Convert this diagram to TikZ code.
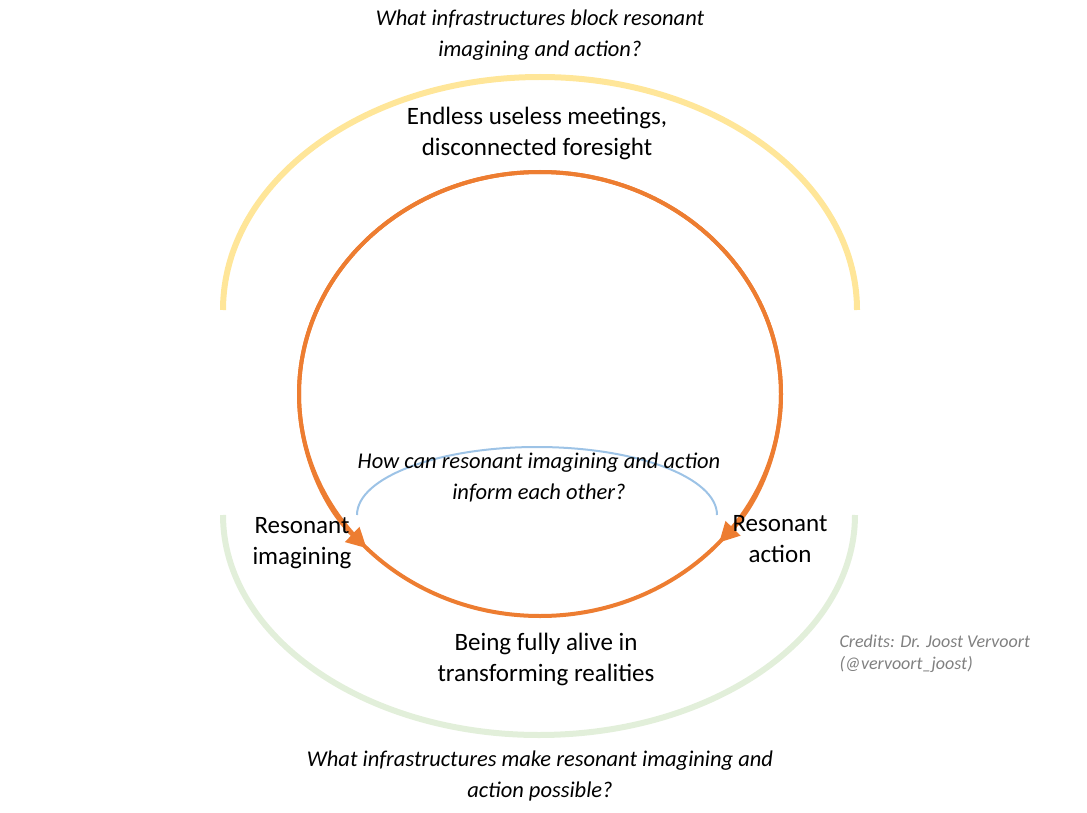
\documentclass[tikz,border=0pt]{standalone}
\usepackage{fontspec}
\setmainfont{Carlito}
\usetikzlibrary{arrows.meta}
\definecolor{org}{HTML}{ED7D31}
\definecolor{yel}{HTML}{FFE699}
\definecolor{grn}{HTML}{E2EFDA}
\definecolor{blu}{HTML}{9DC3E6}
\tikzset{
  big/.style={align=center,font=\fontsize{25}{31}\selectfont},
  q/.style={align=center,font=\fontsize{22.5}{31}\selectfont\itshape},
  orng/.style={org,line width=4pt},
}
\begin{document}
\begin{tikzpicture}[x=1pt,y=1pt]
\useasboundingbox (0,0) rectangle (1087,-813);
% yellow arc
\draw[yel,line width=6pt] (223,-310) arc[start angle=180,end angle=0,x radius=317,y radius=233];
% green arc
\draw[grn,line width=6pt] (223,-515) arc[start angle=180,end angle=360,x radius=316,y radius=220];
% blue arc
\draw[blu,line width=2pt] (357,-515) arc[start angle=180,end angle=0,x radius=180,y radius=68];
% orange ellipse
\coordinate (top) at (540,-172);
\draw[orng] (540,-394) ellipse[x radius=241,y radius=222];
\draw[orng,-{Triangle[length=20pt,width=20pt]}] (top) arc[start angle=90,end angle=224,x radius=241,y radius=222] coordinate (la);
\draw[orng,-{Triangle[length=20pt,width=20pt]}] (top) arc[start angle=90,end angle=-42,x radius=241,y radius=222] coordinate (ra);
% texts
\node[q] (q1) at (540,-35) {What infrastructures block resonant\\imagining and action?};
\node[big] (t1) at (537,-133) {Endless useless meetings,\\disconnected foresight};
\node[q] (q2) at (539,-478) {How can resonant imagining and action\\inform each other?};
\node[big] (ri) at (302,-543) {Resonant\\imagining};
\node[big] (ra2) at (780,-539) {Resonant\\action};
\node[big] (t2) at (546,-659) {Being fully alive in\\transforming realities};
\node[q] (q3) at (540,-776) {What infrastructures make resonant imagining and\\action possible?};
\node[align=left,anchor=west,text=gray,font=\fontsize{18}{22}\selectfont\itshape] (cr) at (836,-654) {Credits: Dr. Joost Vervoort\\(@vervoort\_joost)};
\end{tikzpicture}
\end{document}
